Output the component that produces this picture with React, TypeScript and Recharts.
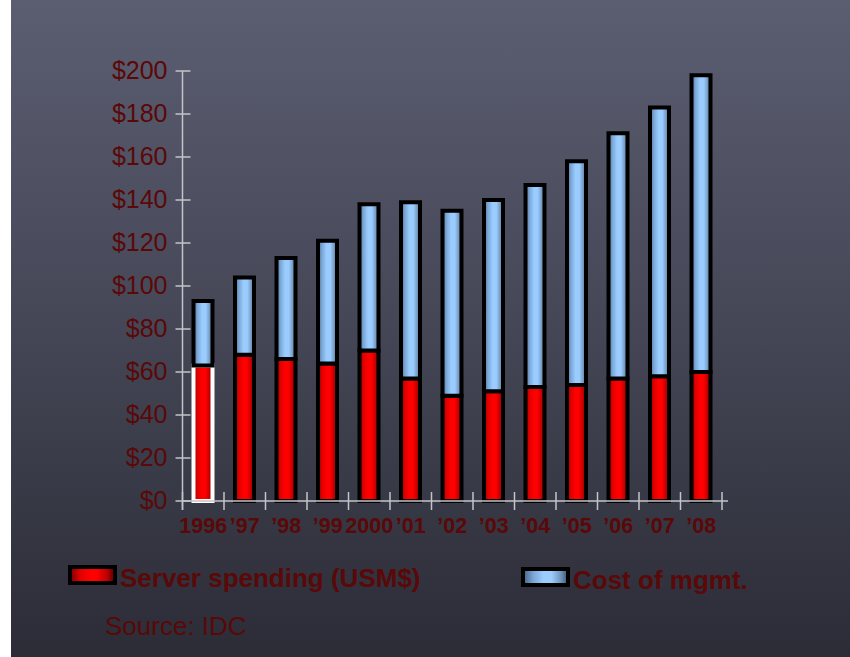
import React from 'react'
import { BarChart, Bar, XAxis, YAxis, Legend, Cell } from 'recharts'

const years = ['1996', '’97', '’98', '’99', '2000', '’01', '’02', '’03', '’04', '’05', '’06', '’07', '’08']
const serverSpending = [63, 68, 66, 64, 70, 57, 49, 51, 53, 54, 57, 58, 60]
const mgmtCost = [30, 36, 47, 57, 68, 82, 86, 89, 94, 104, 114, 125, 138]
const yTicks = [0, 20, 40, 60, 80, 100, 120, 140, 160, 180, 200]
const legendOrder = ['server', 'mgmt']

const data = years.map((year, i) => ({
  year,
  server: serverSpending[i],
  mgmt: mgmtCost[i],
}))

const TEXT = '#5a0808'
const AXIS = '#c4c4c8'
const FONT = '"Liberation Sans", Arial, Helvetica, sans-serif'

// plot area: left 182.5 -> right 722, 13 categories
const BAND = (722 - 182.5) / years.length

function YTick(props: any) {
  const { x, y, payload } = props
  return (
    <g>
      <line x1={x - 7} x2={x + 8} y1={y} y2={y} stroke={AXIS} strokeWidth={1.5} />
      {payload.value === 0 && <line x1={x} x2={x} y1={y} y2={y + 9} stroke={AXIS} strokeWidth={1.5} />}
      <text x={x - 15} y={y + 8} textAnchor="end" fill={TEXT} fontSize={25} fontFamily={FONT}>
        ${payload.value}
      </text>
    </g>
  )
}

function XTick(props: any) {
  const { x, y, payload, index } = props
  const last = index === years.length - 1
  return (
    <g>
      <line x1={x - BAND / 2} x2={x - BAND / 2} y1={y - 9} y2={y + 9} stroke={AXIS} strokeWidth={1.5} />
      {last && (
        <>
          <line x1={x + BAND / 2} x2={x + BAND / 2} y1={y - 9} y2={y + 9} stroke={AXIS} strokeWidth={1.5} />
          <line x1={x + BAND / 2} x2={x + BAND / 2 + 6} y1={y} y2={y} stroke={AXIS} strokeWidth={1.5} />
        </>
      )}
      <text x={x} y={y + 32} textAnchor="middle" fill={TEXT} fontSize={21.5} fontWeight="bold" fontFamily={FONT}>
        {payload.value}
      </text>
    </g>
  )
}

const swatchFill: Record<string, string> = {
  server: 'linear-gradient(to right, #8a0000, #e00000 20%, #ff0000 45%, #ff0000 60%, #c00000 85%, #6a0000)',
  mgmt: 'linear-gradient(to right, #4f6d8f, #79a6d4 20%, #9accff 45%, #9accff 65%, #6f93b8 88%, #4b6483)',
}

function LegendContent(props: any) {
  const items = [...(props.payload || [])].sort(
    (a: any, b: any) => legendOrder.indexOf(a.dataKey) - legendOrder.indexOf(b.dataKey)
  )
  const lefts = [68, 521]
  const tops = [5, 7]
  return (
    <div style={{ position: 'relative', width: 850, height: 40 }}>
      {items.map((item: any, i: number) => (
        <div key={item.dataKey} style={{ position: 'absolute', left: lefts[i], top: tops[i], display: 'flex' }}>
          <div
            style={{
              width: 41,
              height: 12,
              border: '4px solid #000',
              background: swatchFill[item.dataKey],
            }}
          />
          <span
            style={{
              marginLeft: 3,
              fontFamily: FONT,
              fontWeight: 'bold',
              fontSize: 26,
              lineHeight: '26px',
              color: TEXT,
              whiteSpace: 'nowrap',
            }}
          >
            {item.value}
          </span>
        </div>
      ))}
    </div>
  )
}

export default function App() {
  return (
    <div style={{ position: 'absolute', left: 0, top: 0, width: 850, height: 657, background: '#fff', overflow: 'hidden' }}>
      <div
        style={{
          position: 'absolute',
          left: 11,
          top: 0,
          width: 839,
          height: 657,
          background: 'linear-gradient(to bottom, #5b5e71 0%, #474959 45%, #2b2c36 100%)',
        }}
      />
      <div style={{ position: 'absolute', left: 0, top: 0 }}>
        <BarChart
          width={850}
          height={657}
          data={data}
          margin={{ top: 71, right: 128, bottom: 116, left: 102.5 }}
        >
          <defs>
            <linearGradient id="redBar" x1="0" y1="0" x2="1" y2="0">
              <stop offset="0%" stopColor="#8a0000" />
              <stop offset="20%" stopColor="#e00000" />
              <stop offset="45%" stopColor="#ff0000" />
              <stop offset="62%" stopColor="#ff0000" />
              <stop offset="85%" stopColor="#c00000" />
              <stop offset="100%" stopColor="#6a0000" />
            </linearGradient>
            <linearGradient id="blueBar" x1="0" y1="0" x2="1" y2="0">
              <stop offset="0%" stopColor="#4f6d8f" />
              <stop offset="20%" stopColor="#79a6d4" />
              <stop offset="45%" stopColor="#9accff" />
              <stop offset="65%" stopColor="#9accff" />
              <stop offset="88%" stopColor="#6f93b8" />
              <stop offset="100%" stopColor="#4b6483" />
            </linearGradient>
          </defs>
          <XAxis
            dataKey="year"
            height={40}
            tickSize={0}
            tickMargin={0}
            tickLine={false}
            axisLine={{ stroke: AXIS, strokeWidth: 1.5 }}
            tick={<XTick />}
            interval={0}
          />
          <YAxis
            width={80}
            domain={[0, 200]}
            ticks={yTicks}
            tickSize={0}
            tickMargin={0}
            tickLine={false}
            axisLine={{ stroke: AXIS, strokeWidth: 1.5 }}
            tick={<YTick />}
            interval={0}
          />
          <Legend
            layout="horizontal"
            verticalAlign="middle"
            wrapperStyle={{ top: 560, left: 0, width: 850 }}
            content={<LegendContent />}
          />
          <Bar
            dataKey="server"
            name="Server spending (USM$)"
            stackId="a"
            barSize={19}
            fill="url(#redBar)"
            stroke="#000"
            strokeWidth={4}
            isAnimationActive={false}
          >
            {data.map((d, i) => (
              <Cell key={d.year} stroke={i === 0 ? '#fff' : '#000'} />
            ))}
          </Bar>
          <Bar
            dataKey="mgmt"
            name="Cost of mgmt."
            stackId="a"
            barSize={19}
            fill="url(#blueBar)"
            stroke="#000"
            strokeWidth={4}
            isAnimationActive={false}
          />
        </BarChart>
      </div>
      <div
        style={{
          position: 'absolute',
          left: 105,
          top: 613,
          fontFamily: FONT,
          fontSize: 26,
          lineHeight: '26px',
          color: TEXT,
        }}
      >
        Source: IDC
      </div>
    </div>
  )
}
